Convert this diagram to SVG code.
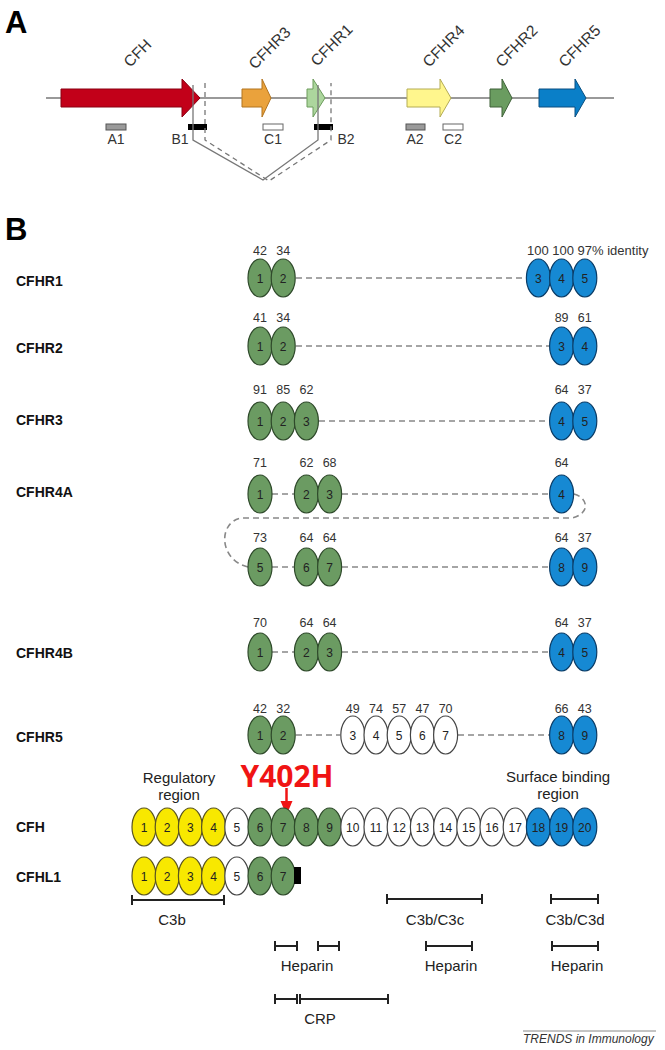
<svg xmlns="http://www.w3.org/2000/svg" width="665" height="1050" viewBox="0 0 665 1050">
<style>
text{font-family:"Liberation Sans",Arial,sans-serif;fill:#222}
.panel{font-size:31px;font-weight:bold;fill:#000}
.gl{font-size:15.5px;fill:#333}
.sl{font-size:14px;fill:#333;text-anchor:middle}
.rl{font-size:14px;font-weight:bold;fill:#111}
.num{font-size:12.5px;fill:#333;text-anchor:middle}
.in{font-size:12px;fill:#222;text-anchor:middle}
.lab{font-size:15px;fill:#222;text-anchor:middle}
.g{fill:#6b9b62;stroke:#2f4a2b;stroke-width:1.2}
.b{fill:#1689d3;stroke:#0b3c66;stroke-width:1.2}
.y{fill:#f8e800;stroke:#5a5420;stroke-width:1.2}
.w{fill:#fff;stroke:#444;stroke-width:1.2}
.dash{fill:none;stroke:#888;stroke-width:1.6;stroke-dasharray:6 4}
.br{fill:none;stroke:#222;stroke-width:2}
</style>

<!-- Panel A -->
<text class="panel" x="5" y="33">A</text>
<g id="chromosome">
<line x1="46" y1="98" x2="614" y2="98" stroke="#777" stroke-width="1.6"/>
</g>
<g id="gene-cfh">
<path d="M61,89 H182 V79 L200,98 L182,117 V107 H61 Z" fill="#c20019" stroke="#8a0012" stroke-width="1"/>
<text class="gl" transform="translate(130,68) rotate(-45)">CFH</text>
</g>
<g id="gene-cfhr3">
<path d="M242,89 H262 V79 L271,98 L262,117 V107 H242 Z" fill="#eaa23c" stroke="#b2741f" stroke-width="1"/>
<text class="gl" transform="translate(255,70) rotate(-45)">CFHR3</text>
</g>
<g id="gene-cfhr1">
<path d="M307,89 H313 V79 L325,98 L313,117 V107 H307 Z" fill="#acd69d" stroke="#6c9c5c" stroke-width="1"/>
<text class="gl" transform="translate(317,67) rotate(-45)">CFHR1</text>
</g>
<g id="gene-cfhr4">
<path d="M407,89 H440 V79 L451,98 L440,117 V107 H407 Z" fill="#fff68d" stroke="#b4ac55" stroke-width="1"/>
<text class="gl" transform="translate(429,68) rotate(-45)">CFHR4</text>
</g>
<g id="gene-cfhr2">
<path d="M490,89 H502 V79 L512,98 L502,117 V107 H490 Z" fill="#6a9c60" stroke="#3e6038" stroke-width="1"/>
<text class="gl" transform="translate(502,68) rotate(-45)">CFHR2</text>
</g>
<g id="gene-cfhr5">
<path d="M539,89 H575 V79 L586,98 L575,117 V107 H539 Z" fill="#0a7fc8" stroke="#0a4f80" stroke-width="1"/>
<text class="gl" transform="translate(565,68) rotate(-45)">CFHR5</text>
</g>
<g id="segments">
<rect x="106" y="124" width="20" height="6" fill="#9a9a9a" stroke="#555" stroke-width="1"/>
<text class="sl" x="116" y="144">A1</text>
<rect x="188" y="124" width="19" height="6" fill="#000"/>
<text class="sl" x="180" y="144">B1</text>
<rect x="263" y="124" width="20" height="6" fill="#fff" stroke="#666" stroke-width="1"/>
<text class="sl" x="273" y="144">C1</text>
<rect x="314" y="124" width="19" height="6" fill="#000"/>
<text class="sl" x="346" y="144">B2</text>
<rect x="406" y="124" width="19" height="6" fill="#9a9a9a" stroke="#555" stroke-width="1"/>
<text class="sl" x="415" y="144">A2</text>
<rect x="443" y="124" width="20" height="6" fill="#fff" stroke="#666" stroke-width="1"/>
<text class="sl" x="453" y="144">C2</text>
</g>
<g id="deletion-connectors">
<path d="M193,85 V140 L263,180 L318,140 V85" fill="none" stroke="#777" stroke-width="1.3"/>
<path d="M205,83 V140 L269,181 L331,140 V83" fill="none" stroke="#777" stroke-width="1.3" stroke-dasharray="5 4"/>
</g>

<!-- Panel B -->
<text class="panel" x="5" y="240">B</text>

<g id="connectors">
<line class="dash" x1="296" y1="278" x2="526" y2="278"/>
<line class="dash" x1="296" y1="346" x2="549" y2="346"/>
<line class="dash" x1="319" y1="421" x2="549" y2="421"/>
<line class="dash" x1="272" y1="494" x2="294" y2="494"/>
<line class="dash" x1="342" y1="494" x2="549" y2="494"/>
<path class="dash" d="M574,494 C589,498 590,514 572,518 H242 C218,521 218,560 248,567"/>
<line class="dash" x1="272" y1="567" x2="294" y2="567"/>
<line class="dash" x1="342" y1="567" x2="549" y2="567"/>
<line class="dash" x1="272" y1="652" x2="294" y2="652"/>
<line class="dash" x1="342" y1="652" x2="549" y2="652"/>
<line class="dash" x1="296" y1="735" x2="340" y2="735"/>
<line class="dash" x1="458" y1="735" x2="549" y2="735"/>
</g>

<g id="row-cfhr1">
<text class="rl" x="16" y="286">CFHR1</text>
<text class="num" x="260" y="255">42</text><text class="num" x="283.2" y="255">34</text>
<text x="527" y="255" style="font-size:13px;fill:#333">100 100 97% identity</text>
<ellipse class="g" cx="260" cy="278" rx="12" ry="19"/><text class="in" x="260" y="282.5">1</text>
<ellipse class="g" cx="283.2" cy="278" rx="12" ry="19"/><text class="in" x="283.2" y="282.5">2</text>
<ellipse class="b" cx="538.4" cy="278" rx="12" ry="19"/><text class="in" x="538.4" y="282.5">3</text>
<ellipse class="b" cx="561.6" cy="278" rx="12" ry="19"/><text class="in" x="561.6" y="282.5">4</text>
<ellipse class="b" cx="584.8" cy="278" rx="12" ry="19"/><text class="in" x="584.8" y="282.5">5</text>
</g>

<g id="row-cfhr2">
<text class="rl" x="16" y="353">CFHR2</text>
<text class="num" x="260" y="322">41</text><text class="num" x="283.2" y="322">34</text>
<text class="num" x="561.6" y="322">89</text><text class="num" x="584.8" y="322">61</text>
<ellipse class="g" cx="260" cy="346" rx="12" ry="19"/><text class="in" x="260" y="350.5">1</text>
<ellipse class="g" cx="283.2" cy="346" rx="12" ry="19"/><text class="in" x="283.2" y="350.5">2</text>
<ellipse class="b" cx="561.6" cy="346" rx="12" ry="19"/><text class="in" x="561.6" y="350.5">3</text>
<ellipse class="b" cx="584.8" cy="346" rx="12" ry="19"/><text class="in" x="584.8" y="350.5">4</text>
</g>

<g id="row-cfhr3">
<text class="rl" x="16" y="425">CFHR3</text>
<text class="num" x="260" y="394">91</text><text class="num" x="283.2" y="394">85</text><text class="num" x="306.4" y="394">62</text>
<text class="num" x="561.6" y="394">64</text><text class="num" x="584.8" y="394">37</text>
<ellipse class="g" cx="260" cy="421" rx="12" ry="19"/><text class="in" x="260" y="425.5">1</text>
<ellipse class="g" cx="283.2" cy="421" rx="12" ry="19"/><text class="in" x="283.2" y="425.5">2</text>
<ellipse class="g" cx="306.4" cy="421" rx="12" ry="19"/><text class="in" x="306.4" y="425.5">3</text>
<ellipse class="b" cx="561.6" cy="421" rx="12" ry="19"/><text class="in" x="561.6" y="425.5">4</text>
<ellipse class="b" cx="584.8" cy="421" rx="12" ry="19"/><text class="in" x="584.8" y="425.5">5</text>
</g>

<g id="row-cfhr4a">
<text class="rl" x="16" y="497">CFHR4A</text>
<text class="num" x="260" y="467">71</text><text class="num" x="306.4" y="467">62</text><text class="num" x="329.6" y="467">68</text>
<text class="num" x="561.6" y="467">64</text>
<ellipse class="g" cx="260" cy="494" rx="12" ry="19"/><text class="in" x="260" y="498.5">1</text>
<ellipse class="g" cx="306.4" cy="494" rx="12" ry="19"/><text class="in" x="306.4" y="498.5">2</text>
<ellipse class="g" cx="329.6" cy="494" rx="12" ry="19"/><text class="in" x="329.6" y="498.5">3</text>
<ellipse class="b" cx="561.6" cy="494" rx="12" ry="19"/><text class="in" x="561.6" y="498.5">4</text>
<text class="num" x="260" y="542">73</text><text class="num" x="306.4" y="542">64</text><text class="num" x="329.6" y="542">64</text>
<text class="num" x="561.6" y="542">64</text><text class="num" x="584.8" y="542">37</text>
<ellipse class="g" cx="260" cy="567" rx="12" ry="19"/><text class="in" x="260" y="571.5">5</text>
<ellipse class="g" cx="306.4" cy="567" rx="12" ry="19"/><text class="in" x="306.4" y="571.5">6</text>
<ellipse class="g" cx="329.6" cy="567" rx="12" ry="19"/><text class="in" x="329.6" y="571.5">7</text>
<ellipse class="b" cx="561.6" cy="567" rx="12" ry="19"/><text class="in" x="561.6" y="571.5">8</text>
<ellipse class="b" cx="584.8" cy="567" rx="12" ry="19"/><text class="in" x="584.8" y="571.5">9</text>
</g>

<g id="row-cfhr4b">
<text class="rl" x="16" y="658">CFHR4B</text>
<text class="num" x="260" y="627">70</text><text class="num" x="306.4" y="627">64</text><text class="num" x="329.6" y="627">64</text>
<text class="num" x="561.6" y="627">64</text><text class="num" x="584.8" y="627">37</text>
<ellipse class="g" cx="260" cy="652" rx="12" ry="19"/><text class="in" x="260" y="656.5">1</text>
<ellipse class="g" cx="306.4" cy="652" rx="12" ry="19"/><text class="in" x="306.4" y="656.5">2</text>
<ellipse class="g" cx="329.6" cy="652" rx="12" ry="19"/><text class="in" x="329.6" y="656.5">3</text>
<ellipse class="b" cx="561.6" cy="652" rx="12" ry="19"/><text class="in" x="561.6" y="656.5">4</text>
<ellipse class="b" cx="584.8" cy="652" rx="12" ry="19"/><text class="in" x="584.8" y="656.5">5</text>
</g>

<g id="row-cfhr5">
<text class="rl" x="16" y="742">CFHR5</text>
<text class="num" x="260" y="713">42</text><text class="num" x="283.2" y="713">32</text>
<text class="num" x="352.8" y="713">49</text><text class="num" x="376" y="713">74</text><text class="num" x="399.2" y="713">57</text><text class="num" x="422.4" y="713">47</text><text class="num" x="445.6" y="713">70</text>
<text class="num" x="561.6" y="713">66</text><text class="num" x="584.8" y="713">43</text>
<ellipse class="g" cx="260" cy="735" rx="12" ry="19"/><text class="in" x="260" y="739.5">1</text>
<ellipse class="g" cx="283.2" cy="735" rx="12" ry="19"/><text class="in" x="283.2" y="739.5">2</text>
<ellipse class="w" cx="352.8" cy="735" rx="12" ry="19"/><text class="in" x="352.8" y="739.5">3</text>
<ellipse class="w" cx="376" cy="735" rx="12" ry="19"/><text class="in" x="376" y="739.5">4</text>
<ellipse class="w" cx="399.2" cy="735" rx="12" ry="19"/><text class="in" x="399.2" y="739.5">5</text>
<ellipse class="w" cx="422.4" cy="735" rx="12" ry="19"/><text class="in" x="422.4" y="739.5">6</text>
<ellipse class="w" cx="445.6" cy="735" rx="12" ry="19"/><text class="in" x="445.6" y="739.5">7</text>
<ellipse class="b" cx="561.6" cy="735" rx="12" ry="19"/><text class="in" x="561.6" y="739.5">8</text>
<ellipse class="b" cx="584.8" cy="735" rx="12" ry="19"/><text class="in" x="584.8" y="739.5">9</text>
</g>

<g id="annotations">
<text class="lab" x="179" y="783">Regulatory</text>
<text class="lab" x="179" y="800">region</text>
<text class="lab" x="558" y="782">Surface binding</text>
<text class="lab" x="558" y="799">region</text>
<text x="287" y="787" style="font-family:'Open Sans','Liberation Sans',sans-serif;font-size:30px;font-weight:bold;fill:#f01414;text-anchor:middle">Y402H</text>
<line x1="286.5" y1="788" x2="286.5" y2="804" stroke="#f01414" stroke-width="2.5"/>
<polygon points="280.5,801 292.5,801 286.5,815" fill="#f01414"/>
</g>

<g id="row-cfh">
<text class="rl" x="16" y="832">CFH</text>
<ellipse class="y" cx="144" cy="827" rx="12" ry="19"/><text class="in" x="144" y="831.5">1</text>
<ellipse class="y" cx="167.2" cy="827" rx="12" ry="19"/><text class="in" x="167.2" y="831.5">2</text>
<ellipse class="y" cx="190.4" cy="827" rx="12" ry="19"/><text class="in" x="190.4" y="831.5">3</text>
<ellipse class="y" cx="213.6" cy="827" rx="12" ry="19"/><text class="in" x="213.6" y="831.5">4</text>
<ellipse class="w" cx="236.8" cy="827" rx="12" ry="19"/><text class="in" x="236.8" y="831.5">5</text>
<ellipse class="g" cx="260" cy="827" rx="12" ry="19"/><text class="in" x="260" y="831.5">6</text>
<ellipse class="g" cx="283.2" cy="827" rx="12" ry="19"/><text class="in" x="283.2" y="831.5">7</text>
<ellipse class="g" cx="306.4" cy="827" rx="12" ry="19"/><text class="in" x="306.4" y="831.5">8</text>
<ellipse class="g" cx="329.6" cy="827" rx="12" ry="19"/><text class="in" x="329.6" y="831.5">9</text>
<ellipse class="w" cx="352.8" cy="827" rx="12" ry="19"/><text class="in" x="352.8" y="831.5">10</text>
<ellipse class="w" cx="376" cy="827" rx="12" ry="19"/><text class="in" x="376" y="831.5">11</text>
<ellipse class="w" cx="399.2" cy="827" rx="12" ry="19"/><text class="in" x="399.2" y="831.5">12</text>
<ellipse class="w" cx="422.4" cy="827" rx="12" ry="19"/><text class="in" x="422.4" y="831.5">13</text>
<ellipse class="w" cx="445.6" cy="827" rx="12" ry="19"/><text class="in" x="445.6" y="831.5">14</text>
<ellipse class="w" cx="468.8" cy="827" rx="12" ry="19"/><text class="in" x="468.8" y="831.5">15</text>
<ellipse class="w" cx="492" cy="827" rx="12" ry="19"/><text class="in" x="492" y="831.5">16</text>
<ellipse class="w" cx="515.2" cy="827" rx="12" ry="19"/><text class="in" x="515.2" y="831.5">17</text>
<ellipse class="b" cx="538.4" cy="827" rx="12" ry="19"/><text class="in" x="538.4" y="831.5">18</text>
<ellipse class="b" cx="561.6" cy="827" rx="12" ry="19"/><text class="in" x="561.6" y="831.5">19</text>
<ellipse class="b" cx="584.8" cy="827" rx="12" ry="19"/><text class="in" x="584.8" y="831.5">20</text>
</g>

<g id="row-cfhl1">
<text class="rl" x="16" y="882">CFHL1</text>
<ellipse class="y" cx="144" cy="876" rx="12" ry="19"/><text class="in" x="144" y="880.5">1</text>
<ellipse class="y" cx="167.2" cy="876" rx="12" ry="19"/><text class="in" x="167.2" y="880.5">2</text>
<ellipse class="y" cx="190.4" cy="876" rx="12" ry="19"/><text class="in" x="190.4" y="880.5">3</text>
<ellipse class="y" cx="213.6" cy="876" rx="12" ry="19"/><text class="in" x="213.6" y="880.5">4</text>
<ellipse class="w" cx="236.8" cy="876" rx="12" ry="19"/><text class="in" x="236.8" y="880.5">5</text>
<ellipse class="g" cx="260" cy="876" rx="12" ry="19"/><text class="in" x="260" y="880.5">6</text>
<ellipse class="g" cx="283.2" cy="876" rx="12" ry="19"/><text class="in" x="283.2" y="880.5">7</text>
<rect x="294" y="867" width="7" height="17" fill="#000"/>
</g>

<g id="binding-sites">
<path class="br" d="M132,900 H224 M132,895 V905 M224,895 V905"/>
<text class="lab" x="172" y="925">C3b</text>
<path class="br" d="M387,899 H482 M387,894 V904 M482,894 V904"/>
<text class="lab" x="435" y="925">C3b/C3c</text>
<path class="br" d="M551,899 H598 M551,894 V904 M598,894 V904"/>
<text class="lab" x="575" y="925">C3b/C3d</text>
<path class="br" d="M275,946 H297 M275,941 V951 M297,941 V951 M318,946 H339 M318,941 V951 M339,941 V951"/>
<text class="lab" x="307" y="971">Heparin</text>
<path class="br" d="M426,946 H472 M426,941 V951 M472,941 V951"/>
<text class="lab" x="451" y="971">Heparin</text>
<path class="br" d="M552,946 H598 M552,941 V951 M598,941 V951"/>
<text class="lab" x="577" y="971">Heparin</text>
<path class="br" d="M275,999 H297 M275,994 V1004 M297,994 V1004 M300,994 V1004 M300,999 H388 M388,994 V1004"/>
<text class="lab" x="320" y="1024">CRP</text>
</g>

<g id="credit">
<line x1="523" y1="1031" x2="656" y2="1031" stroke="#888" stroke-width="1"/>
<text x="523" y="1043" style="font-size:12px;font-style:italic;fill:#333">TRENDS in Immunology</text>
</g>
</svg>
